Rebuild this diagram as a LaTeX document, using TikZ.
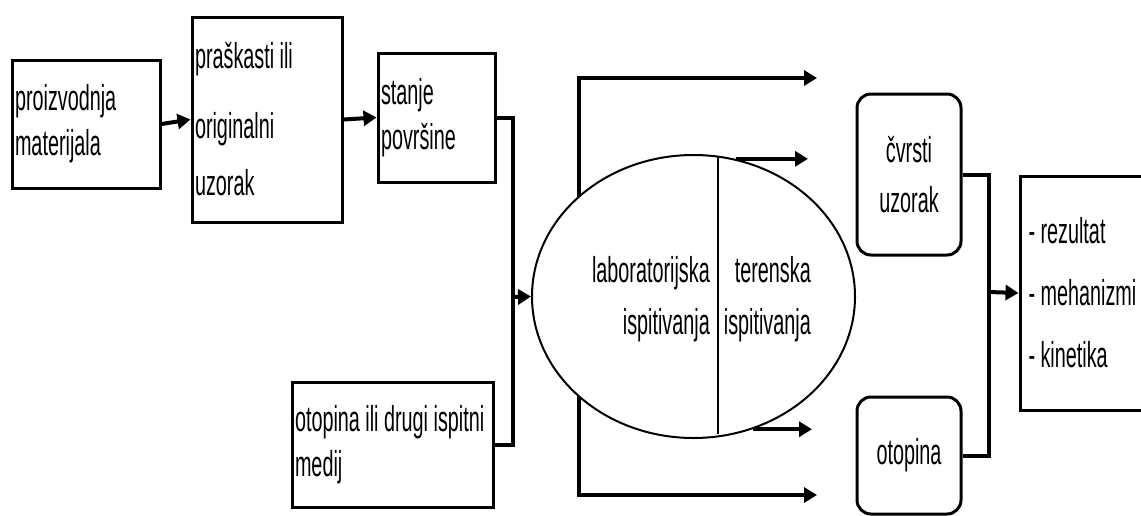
\documentclass[tikz,border=0pt]{standalone}
\usepackage{fontspec}
\setmainfont{Liberation Sans}[FakeStretch=0.55]
\usetikzlibrary{shapes.geometric,arrows.meta,positioning}
\newcommand{\narrowfont}[2]{\fontsize{#1}{#2}\selectfont\fontdimen2\font=5.5pt\hyphenpenalty=10000\relax}
\tikzset
{
    boxnode/.style   = {draw=black, line width=3pt, fill=white, align=flush left, inner xsep=3pt, inner ysep=2pt, font=\narrowfont{36}{45}},
    roundnode/.style = {draw=black, line width=3pt, rounded corners=14pt, align=flush center, inner sep=2pt, font=\narrowfont{36}{45}},
    oval/.style      = {ellipse, draw=black, line width=2pt, fill=white, minimum width=323pt, minimum height=283pt, inner sep=0pt},
    halftext/.style  = {align=flush right, inner sep=0pt, font=\narrowfont{36}{52}},
    link/.style      = {line width=4pt}
}

\begin{document}
\begin{tikzpicture}[x=1pt, y=-1pt, >={Triangle[length=13pt, width=15pt]}]
    \useasboundingbox (0,0) rectangle (1141,515);
    \node [boxnode, minimum width=148pt, minimum height=128pt, text width=142pt] (prod) at (86,124) {proizvodnja\\materijala};
    \node [boxnode, minimum width=150pt, minimum height=205pt, text width=144pt] (uzor) at (267,119.5) {praškasti ili\\[25pt]originalni\\[12pt]uzorak};
    \node [boxnode, minimum width=117pt, minimum height=129pt, text width=111pt] (stan) at (436.5,117.5) {stanje\\površine};
    \node [boxnode, minimum width=201pt, minimum height=125pt, text width=195pt] (med) at (392.5,444.5) {otopina ili drugi ispitni\\medij};

    \coordinate (toptip) at (817,78);
    \coordinate (topleft) at (579,78);
    \coordinate (botleft) at (579,495);
    \coordinate (bottip) at (817,495);
    \draw [link, <->] (toptip) -- (topleft) -- (botleft) -- (bottip);

    \node [oval] (lab) at (693.5,296.5) {};
    \draw [line width=1.5pt] (718,157) -- (718,434);
    \node [halftext, anchor=east] (labtxt) at (710,299) {laboratorijska\\ispitivanja};
    \node [halftext, anchor=east] (tertxt) at (811,299) {terenska\\ispitivanja};

    \node [roundnode, minimum width=104pt, minimum height=161pt] (solid) at (909,174.5) {čvrsti\\[5pt]uzorak};
    \node [roundnode, minimum width=104pt, minimum height=117pt] (sol) at (909,455.5) {otopina};
    \node [boxnode, minimum width=130pt, minimum height=234pt, text width=113pt] (res) at (1085,293) {- rezultat\\[17pt]- mehanizmi\\[17pt]- kinetika};

    \coordinate (jl) at (513,297);
    \coordinate (jr) at (989,292);
    \coordinate (midtop) at (808,160);
    \coordinate (midbot) at (812,428);
    \draw [link, ->] (prod.east) -- (uzor.west);
    \draw [link, ->] (uzor.east) -- (stan.west);
    \draw [link] (stan.east) -| (jl) |- (med.east);
    \draw [link, ->] (jl) -- (lab.west);
    \draw [link, ->] (lab.73) -- (lab.73 -| midtop);
    \draw [link, ->] (lab.-66) -- (lab.-66 -| midbot);
    \draw [link] (solid.east) -| (jr) |- (sol.east);
    \draw [link, ->] (jr) -- (res.west);
\end{tikzpicture}
\end{document}
